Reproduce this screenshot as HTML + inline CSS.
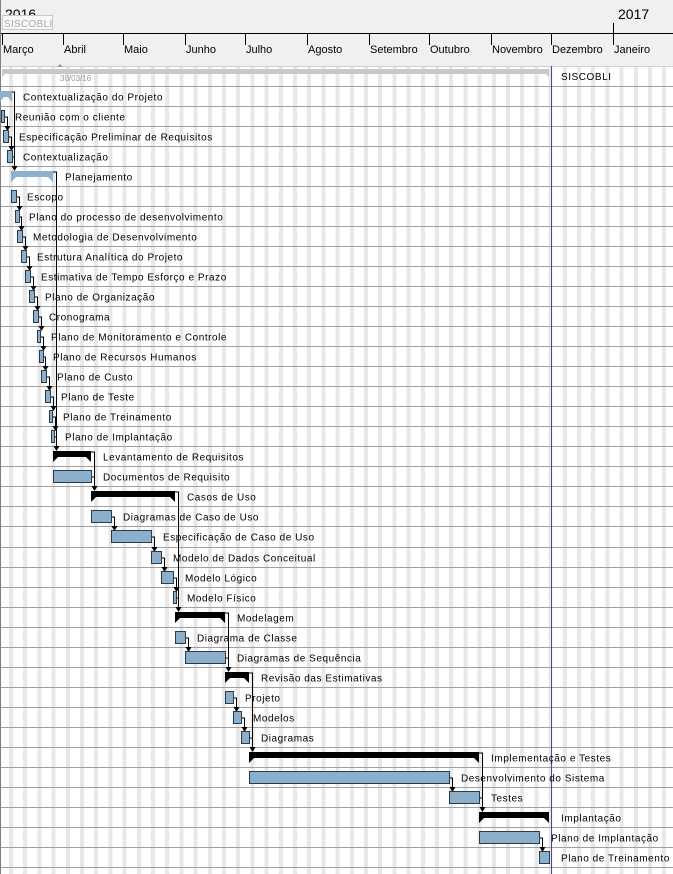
<!DOCTYPE html>
<html><head><meta charset="utf-8"><style>
html,body{margin:0;padding:0;background:#fff;}
#bg{position:absolute;left:0;top:66px;width:673px;height:808px;background:repeating-linear-gradient(90deg,#fff 0px,#fff 9px,#e8e8e8 9px,#e8e8e8 13px,#fff 13px,#fff 14.2px);}
svg{position:absolute;left:0;top:0;display:block;font-family:"Liberation Sans",sans-serif;}
.t{font-size:10px;letter-spacing:0.55px;fill:#000;}
.m{font-size:11px;fill:#000;}
.L{fill:#8cb0cb;stroke:#2a3a4a;stroke-width:1;}
.S{fill:#000;}
.B{fill:#8fb0c8;}
.c{fill:none;stroke:#000;stroke-width:1;}
.g{stroke:#a0a0a0;stroke-width:1;}
</style></head><body>
<div id="bg"></div>
<svg width="673" height="874" viewBox="0 0 673 874" xmlns="http://www.w3.org/2000/svg">
<!-- header -->
<rect x="0" y="0" width="673" height="66" fill="#f0f0f0"/>
<text x="5" y="19" style="font-size:14px" fill="#000">2016</text>
<rect x="2.5" y="15.5" width="50" height="14" fill="#f8f8f8" stroke="#c8c8c8"/>
<text x="4" y="27" style="font-size:10px;letter-spacing:0.3px" fill="#a8a8a8">SISCOBLI</text>
<text x="618" y="19" style="font-size:14px" fill="#000">2017</text>
<line x1="0" y1="33.5" x2="673" y2="33.5" stroke="#000"/>
<g stroke="#000">
<line x1="2.5" y1="33" x2="2.5" y2="45"/><line x1="63.5" y1="33" x2="63.5" y2="45"/><line x1="123.5" y1="33" x2="123.5" y2="45"/><line x1="185.5" y1="33" x2="185.5" y2="45"/><line x1="245.5" y1="33" x2="245.5" y2="45"/><line x1="307.5" y1="33" x2="307.5" y2="45"/><line x1="369.5" y1="33" x2="369.5" y2="45"/><line x1="429.5" y1="33" x2="429.5" y2="45"/><line x1="491.5" y1="33" x2="491.5" y2="45"/><line x1="551.5" y1="33" x2="551.5" y2="45"/><line x1="613.5" y1="23" x2="613.5" y2="45"/>
</g>
<g class="m">
<text x="3" y="53">Março</text><text x="64" y="53">Abril</text><text x="124" y="53">Maio</text><text x="186" y="53">Junho</text><text x="246" y="53">Julho</text><text x="308" y="53">Agosto</text><text x="370" y="53">Setembro</text><text x="430" y="53">Outubro</text><text x="492" y="53">Novembro</text><text x="552" y="53">Dezembro</text><text x="614" y="53">Janeiro</text>
</g>
<line x1="0" y1="66.5" x2="673" y2="66.5" stroke="#d0d0d0"/>
<!-- row lines -->
<g class="g">
<line x1="0" y1="86.5" x2="673" y2="86.5"/><line x1="0" y1="106.5" x2="673" y2="106.5"/><line x1="0" y1="126.5" x2="673" y2="126.5"/><line x1="0" y1="146.5" x2="673" y2="146.5"/><line x1="0" y1="166.5" x2="673" y2="166.5"/><line x1="0" y1="186.5" x2="673" y2="186.5"/><line x1="0" y1="206.5" x2="673" y2="206.5"/><line x1="0" y1="226.5" x2="673" y2="226.5"/><line x1="0" y1="246.5" x2="673" y2="246.5"/><line x1="0" y1="266.5" x2="673" y2="266.5"/><line x1="0" y1="286.5" x2="673" y2="286.5"/><line x1="0" y1="306.5" x2="673" y2="306.5"/><line x1="0" y1="326.5" x2="673" y2="326.5"/><line x1="0" y1="346.5" x2="673" y2="346.5"/><line x1="0" y1="366.5" x2="673" y2="366.5"/><line x1="0" y1="386.5" x2="673" y2="386.5"/><line x1="0" y1="406.5" x2="673" y2="406.5"/><line x1="0" y1="426.5" x2="673" y2="426.5"/><line x1="0" y1="446.5" x2="673" y2="446.5"/><line x1="0" y1="466.5" x2="673" y2="466.5"/><line x1="0" y1="486.5" x2="673" y2="486.5"/><line x1="0" y1="506.5" x2="673" y2="506.5"/><line x1="0" y1="526.5" x2="673" y2="526.5"/><line x1="0" y1="547.5" x2="673" y2="547.5"/><line x1="0" y1="567.5" x2="673" y2="567.5"/><line x1="0" y1="587.5" x2="673" y2="587.5"/><line x1="0" y1="607.5" x2="673" y2="607.5"/><line x1="0" y1="627.5" x2="673" y2="627.5"/><line x1="0" y1="647.5" x2="673" y2="647.5"/><line x1="0" y1="667.5" x2="673" y2="667.5"/><line x1="0" y1="687.5" x2="673" y2="687.5"/><line x1="0" y1="707.5" x2="673" y2="707.5"/><line x1="0" y1="727.5" x2="673" y2="727.5"/><line x1="0" y1="747.5" x2="673" y2="747.5"/><line x1="0" y1="767.5" x2="673" y2="767.5"/><line x1="0" y1="787.5" x2="673" y2="787.5"/><line x1="0" y1="807.5" x2="673" y2="807.5"/><line x1="0" y1="827.5" x2="673" y2="827.5"/><line x1="0" y1="847.5" x2="673" y2="847.5"/><line x1="0" y1="867.5" x2="673" y2="867.5"/>
</g>
<line x1="0.5" y1="0" x2="0.5" y2="874" stroke="#808080"/>
<line x1="551.5" y1="66" x2="551.5" y2="874" stroke="#4b4b8c"/>
<!-- SISCOBLI summary -->
<path d="M2 69 H549 V77 L546 74 H5 L2 77 Z" fill="#c8c8c8"/>
<path d="M57 67 L60 64 L63 67 Z" fill="#999"/>
<text x="60" y="81" style="font-size:8px" fill="#999">30/03/16</text>
<text x="561" y="80" class="t">SISCOBLI</text>

<!-- connectors -->
<g class="c">
<polyline points="12,92 14.5,92 14.5,166"/>
<polyline points="4,117 7.5,117 7.5,126"/>
<polyline points="8,137 11.5,137 11.5,146"/>
<polyline points="12,157 14.5,157"/>
<polyline points="53,172 56.5,172 56.5,446"/>
<polyline points="16,197 19.5,197 19.5,206"/>
<polyline points="19,217 21.5,217 21.5,226"/>
<polyline points="22,237 25.5,237 25.5,246"/>
<polyline points="26,257 29.5,257 29.5,266"/>
<polyline points="30,277 33.5,277 33.5,286"/>
<polyline points="34,297 37.5,297 37.5,306"/>
<polyline points="38,317 41.5,317 41.5,326"/>
<polyline points="40,337 43.5,337 43.5,346"/>
<polyline points="43,357 45.5,357 45.5,366"/>
<polyline points="46,377 49.5,377 49.5,386"/>
<polyline points="50,397 53.5,397 53.5,406"/>
<polyline points="52,417 55.5,417 55.5,426"/>
<polyline points="54,437 56.5,437"/>
<polyline points="91,452 94.5,452 94.5,486"/>
<polyline points="91,477 94.5,477"/>
<polyline points="175,492 178.5,492 178.5,607"/>
<polyline points="111,517 114.5,517 114.5,526"/>
<polyline points="151,537 154.5,537 154.5,547"/>
<polyline points="161,558 164.5,558 164.5,567"/>
<polyline points="173,578 176.5,578 176.5,587"/>
<polyline points="176,598 178.5,598"/>
<polyline points="225,613 228.5,613 228.5,667"/>
<polyline points="185,638 188.5,638 188.5,647"/>
<polyline points="225,658 228.5,658"/>
<polyline points="249,673 252.5,673 252.5,747"/>
<polyline points="233,698 236.5,698 236.5,707"/>
<polyline points="241,718 244.5,718 244.5,727"/>
<polyline points="249,738 252.5,738"/>
<polyline points="479,753 482.5,753 482.5,807"/>
<polyline points="449,778 452.5,778 452.5,787"/>
<polyline points="479,798 482.5,798"/>
<polyline points="539,838 542.5,838 542.5,847"/>
</g>
<!-- arrowheads -->
<g fill="#000">
<path d="M11.5,166 h6 l-3,5 z"/>
<path d="M4.5,126 h6 l-3,5 z"/>
<path d="M8.5,146 h6 l-3,5 z"/>
<path d="M53.5,446 h6 l-3,5 z"/>
<path d="M16.5,206 h6 l-3,5 z"/>
<path d="M18.5,226 h6 l-3,5 z"/>
<path d="M22.5,246 h6 l-3,5 z"/>
<path d="M26.5,266 h6 l-3,5 z"/>
<path d="M30.5,286 h6 l-3,5 z"/>
<path d="M34.5,306 h6 l-3,5 z"/>
<path d="M38.5,326 h6 l-3,5 z"/>
<path d="M40.5,346 h6 l-3,5 z"/>
<path d="M42.5,366 h6 l-3,5 z"/>
<path d="M46.5,386 h6 l-3,5 z"/>
<path d="M50.5,406 h6 l-3,5 z"/>
<path d="M52.5,426 h6 l-3,5 z"/>
<path d="M91.5,486 h6 l-3,5 z"/>
<path d="M175.5,607 h6 l-3,5 z"/>
<path d="M111.5,526 h6 l-3,5 z"/>
<path d="M151.5,547 h6 l-3,5 z"/>
<path d="M161.5,567 h6 l-3,5 z"/>
<path d="M173.5,587 h6 l-3,5 z"/>
<path d="M225.5,667 h6 l-3,5 z"/>
<path d="M185.5,647 h6 l-3,5 z"/>
<path d="M249.5,747 h6 l-3,5 z"/>
<path d="M233.5,707 h6 l-3,5 z"/>
<path d="M241.5,727 h6 l-3,5 z"/>
<path d="M479.5,807 h6 l-3,5 z"/>
<path d="M449.5,787 h6 l-3,5 z"/>
<path d="M539.5,847 h6 l-3,5 z"/>
</g>
<!-- summary bars -->
<path class="B" d="M0 91 H12 V102 L8 97 H4 L0 102 Z"/>
<path class="B" d="M11 171 H53 V182 L48 177 H16 L11 182 Z"/>
<path class="S" d="M53 451 H91 V462 L86 457 H58 L53 462 Z"/>
<path class="S" d="M91 491 H175 V502 L170 497 H96 L91 502 Z"/>
<path class="S" d="M175 612 H225 V623 L220 618 H180 L175 623 Z"/>
<path class="S" d="M225 672 H249 V683 L244 678 H230 L225 683 Z"/>
<path class="S" d="M249 752 H479 V763 L474 758 H254 L249 763 Z"/>
<path class="S" d="M479 812 H549 V823 L544 818 H484 L479 823 Z"/>
<!-- leaf bars -->
<g class="L">
<rect x="1.5" y="110.5" width="3" height="12"/>
<rect x="3.5" y="130.5" width="5" height="12"/>
<rect x="7.5" y="150.5" width="5" height="12"/>
<rect x="11.5" y="190.5" width="5" height="12"/>
<rect x="15.5" y="210.5" width="4" height="12"/>
<rect x="17.5" y="230.5" width="5" height="12"/>
<rect x="21.5" y="250.5" width="5" height="12"/>
<rect x="25.5" y="270.5" width="5" height="12"/>
<rect x="29.5" y="290.5" width="5" height="12"/>
<rect x="33.5" y="310.5" width="5" height="12"/>
<rect x="37.5" y="330.5" width="3" height="12"/>
<rect x="39.5" y="350.5" width="4" height="12"/>
<rect x="41.5" y="370.5" width="5" height="12"/>
<rect x="45.5" y="390.5" width="5" height="12"/>
<rect x="49.5" y="410.5" width="3" height="12"/>
<rect x="51.5" y="430.5" width="3" height="12"/>
<rect x="53.5" y="470.5" width="38" height="12"/>
<rect x="91.5" y="510.5" width="20" height="12"/>
<rect x="111.5" y="530.5" width="40" height="12"/>
<rect x="151.5" y="551.5" width="10" height="12"/>
<rect x="161.5" y="571.5" width="12" height="12"/>
<rect x="173.5" y="591.5" width="3" height="12"/>
<rect x="175.5" y="631.5" width="10" height="12"/>
<rect x="185.5" y="651.5" width="40" height="12"/>
<rect x="225.5" y="691.5" width="8" height="12"/>
<rect x="233.5" y="711.5" width="8" height="12"/>
<rect x="241.5" y="731.5" width="8" height="12"/>
<rect x="249.5" y="771.5" width="200" height="12"/>
<rect x="449.5" y="791.5" width="30" height="12"/>
<rect x="479.5" y="831.5" width="60" height="12"/>
<rect x="539.5" y="851.5" width="10" height="12"/>
</g>
<!-- labels -->
<g class="t">
<text x="23" y="100.5">Contextualização do Projeto</text>
<text x="15" y="120.5">Reunião com o cliente</text>
<text x="19" y="140.5">Especificação Preliminar de Requisitos</text>
<text x="23" y="160.5">Contextualização</text>
<text x="65" y="180.5">Planejamento</text>
<text x="27" y="200.5">Escopo</text>
<text x="29" y="220.5">Plano do processo de desenvolvimento</text>
<text x="33" y="240.5">Metodologia de Desenvolvimento</text>
<text x="37" y="260.5">Estrutura Analítica do Projeto</text>
<text x="41" y="280.5">Estimativa de Tempo Esforço e Prazo</text>
<text x="45" y="300.5">Plano de Organização</text>
<text x="49" y="320.5">Cronograma</text>
<text x="51" y="340.5">Plano de Monitoramento e Controle</text>
<text x="53" y="360.5">Plano de Recursos Humanos</text>
<text x="57" y="380.5">Plano de Custo</text>
<text x="61" y="400.5">Plano de Teste</text>
<text x="63" y="420.5">Plano de Treinamento</text>
<text x="65" y="440.5">Plano de Implantação</text>
<text x="103" y="460.5">Levantamento de Requisitos</text>
<text x="103" y="480.5">Documentos de Requisito</text>
<text x="187" y="500.5">Casos de Uso</text>
<text x="123" y="520.5">Diagramas de Caso de Uso</text>
<text x="163" y="540.5">Especificação de Caso de Uso</text>
<text x="173" y="561.5">Modelo de Dados Conceitual</text>
<text x="185" y="581.5">Modelo Lógico</text>
<text x="187" y="601.5">Modelo Físico</text>
<text x="237" y="621.5">Modelagem</text>
<text x="197" y="641.5">Diagrama de Classe</text>
<text x="237" y="661.5">Diagramas de Sequência</text>
<text x="261" y="681.5">Revisão das Estimativas</text>
<text x="245" y="701.5">Projeto</text>
<text x="253" y="721.5">Modelos</text>
<text x="261" y="741.5">Diagramas</text>
<text x="491" y="761.5">Implementação e Testes</text>
<text x="461" y="781.5">Desenvolvimento do Sistema</text>
<text x="491" y="801.5">Testes</text>
<text x="561" y="821.5">Implantação</text>
<text x="551" y="841.5">Plano de Implantação</text>
<text x="561" y="861.5">Plano de Treinamento</text>
</g>
</svg>
</body></html>
